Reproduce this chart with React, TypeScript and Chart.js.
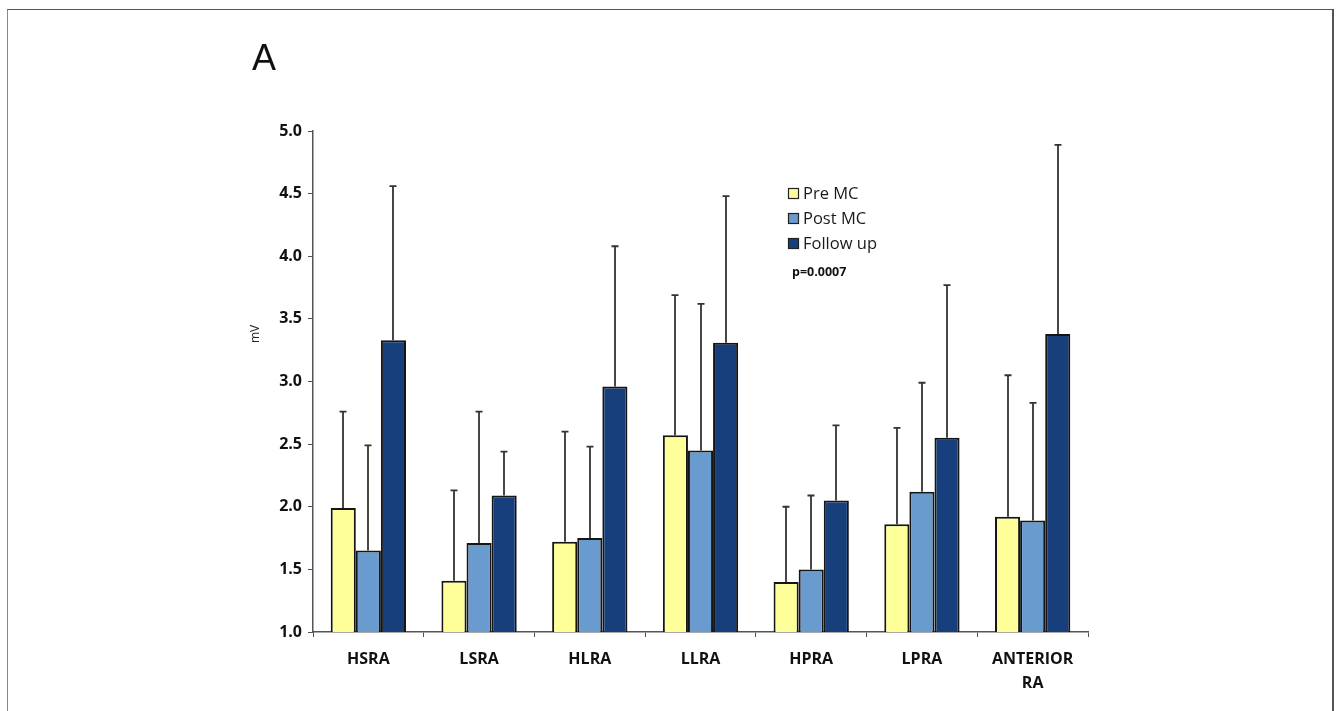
import React, { useEffect, useRef } from "react";
import { Chart, registerables } from "chart.js";

Chart.register(...registerables);

// Recording sites
const categories: (string | string[])[] = ["HSRA", "LSRA", "HLRA", "LLRA", "HPRA", "LPRA", ["ANTERIOR", "RA"]];

// Mean amplitudes (mV)
const preMC = [1.99, 1.41, 1.72, 2.57, 1.40, 1.86, 1.92];
const postMC = [1.65, 1.71, 1.75, 2.45, 1.50, 2.12, 1.89];
const followUp = [3.33, 2.09, 2.96, 3.31, 2.05, 2.55, 3.38];

// Standard deviations (upper error bars)
const preSD = [0.77, 0.72, 0.88, 1.12, 0.60, 0.77, 1.13];
const postSD = [0.84, 1.05, 0.73, 1.17, 0.59, 0.87, 0.94];
const followSD = [1.23, 0.35, 1.12, 1.17, 0.60, 1.22, 1.51];

const seriesNames = ["Pre MC", "Post MC", "Follow up"];
const seriesColors = ["#FFFF99", "#6A9BCF", "#163F7B"];
const pValueText = "p=0.0007";
const panelLetter = "A";

const yMin = 1.0;
const yMax = 5.0;
const yStep = 0.5;

const sdBySeries = [preSD, postSD, followSD];

const FONT = "'Open Sans', 'DejaVu Sans', sans-serif";

// Upper-only error bars with short caps
const errorBarPlugin = {
  id: "errorBars",
  afterDatasetsDraw(chart: any) {
    const ctx = chart.ctx;
    const yScale = chart.scales.y;
    ctx.save();
    ctx.strokeStyle = "#333333";
    ctx.lineWidth = 1.8;
    chart.data.datasets.forEach((ds: any, di: number) => {
      const meta = chart.getDatasetMeta(di);
      meta.data.forEach((bar: any, i: number) => {
        const mean = ds.data[i];
        const top = yScale.getPixelForValue(mean + sdBySeries[di][i]);
        const base = yScale.getPixelForValue(mean);
        const x = Math.round(bar.x);
        ctx.beginPath();
        ctx.moveTo(x, base);
        ctx.lineTo(x, top);
        ctx.moveTo(x - 3.5, top);
        ctx.lineTo(x + 3.5, top);
        ctx.stroke();
      });
    });
    ctx.restore();
  },
};

// Panel letter, axis unit, legend and p-value annotation
const annotationPlugin = {
  id: "annotations",
  afterDraw(chart: any) {
    const ctx = chart.ctx;
    const area = chart.chartArea;
    const yScale = chart.scales.y;
    ctx.save();

    ctx.fillStyle = "#111111";
    ctx.font = "36px 'Liberation Sans', Arial, sans-serif";
    ctx.textAlign = "left";
    ctx.textBaseline = "alphabetic";
    ctx.fillText(panelLetter, area.left - 61, 70);

    ctx.save();
    ctx.translate(area.left - 57, yScale.getPixelForValue(3.38));
    ctx.rotate(-Math.PI / 2);
    ctx.font = `12px ${FONT}`;
    ctx.textAlign = "center";
    ctx.textBaseline = "middle";
    ctx.fillStyle = "#222222";
    ctx.fillText("mV", 0, 0);
    ctx.restore();

    const lx = 788;
    const ly0 = 193;
    const rowGap = 25;
    chart.data.datasets.forEach((ds: any, i: number) => {
      const cy = ly0 + i * rowGap;
      ctx.fillStyle = ds.backgroundColor;
      ctx.fillRect(lx, cy - 5, 10, 10);
      ctx.strokeStyle = "#222222";
      ctx.lineWidth = 1.2;
      ctx.strokeRect(lx + 0.5, cy - 4.5, 10, 10);
      ctx.fillStyle = "#1a1a1a";
      ctx.font = `16.5px ${FONT}`;
      ctx.textAlign = "left";
      ctx.textBaseline = "middle";
      ctx.fillText(ds.label, lx + 15, cy + 1);
    });

    ctx.font = `bold 12.5px ${FONT}`;
    ctx.fillStyle = "#111111";
    ctx.fillText(pValueText, 792, 272);
    ctx.restore();
  },
};

export default function App() {
  const canvasRef = useRef<HTMLCanvasElement | null>(null);

  useEffect(() => {
    const canvas = canvasRef.current;
    if (!canvas) return;
    const values = [preMC, postMC, followUp];
    const chart = new Chart(canvas, {
      type: "bar",
      data: {
        labels: categories,
        datasets: values.map((v, i) => ({
          label: seriesNames[i],
          data: v,
          backgroundColor: seriesColors[i],
          borderColor: "#151515",
          borderWidth: 2,
          borderSkipped: "bottom",
          barPercentage: 1.0,
          categoryPercentage: 0.68,
        })),
      },
      options: {
        responsive: false,
        animation: false,
        devicePixelRatio: 1,
        layout: { padding: { left: 240, right: 252, top: 131, bottom: 19 } },
        plugins: {
          legend: { display: false },
          tooltip: { enabled: false },
        },
        scales: {
          x: {
            afterFit: (scale: any) => {
              scale.height = 60;
            },
            grid: {
              display: true,
              drawOnChartArea: false,
              drawTicks: true,
              tickLength: 5,
              color: "#555555",
              offset: true,
            },
            border: { display: true, color: "#555555", width: 1.5 },
            ticks: {
              color: "#111111",
              padding: 10,
              maxRotation: 0,
              autoSkip: false,
              font: { family: FONT, size: 16, weight: "bold", lineHeight: 1.5 },
            },
          },
          y: {
            min: yMin,
            max: yMax,
            afterFit: (scale: any) => {
              scale.width = 73;
            },
            grid: {
              display: true,
              drawOnChartArea: false,
              drawTicks: true,
              tickLength: 5,
              color: "#555555",
            },
            border: { display: true, color: "#555555", width: 1.5 },
            ticks: {
              stepSize: yStep,
              color: "#111111",
              padding: 6,
              font: { family: FONT, size: 16, weight: "bold" },
              callback: (v: any) => Number(v).toFixed(1),
            },
          },
        },
      },
      plugins: [errorBarPlugin, annotationPlugin],
    });
    return () => chart.destroy();
  }, []);

  return (
    <div
      style={{
        position: "fixed",
        left: 0,
        top: 0,
        width: 1340,
        height: 711,
        overflow: "hidden",
        background: "#ffffff",
      }}
    >
      <div
        style={{
          position: "absolute",
          left: 7,
          top: 9,
          width: 1324,
          height: 760,
          borderTop: "1.5px solid #555",
          borderLeft: "1.5px solid #888",
          borderRight: "2px solid #555",
        }}
      />
      <canvas
        ref={canvasRef}
        width={1340}
        height={711}
        style={{ position: "absolute", left: 0, top: 0, width: 1340, height: 711 }}
      />
    </div>
  );
}
